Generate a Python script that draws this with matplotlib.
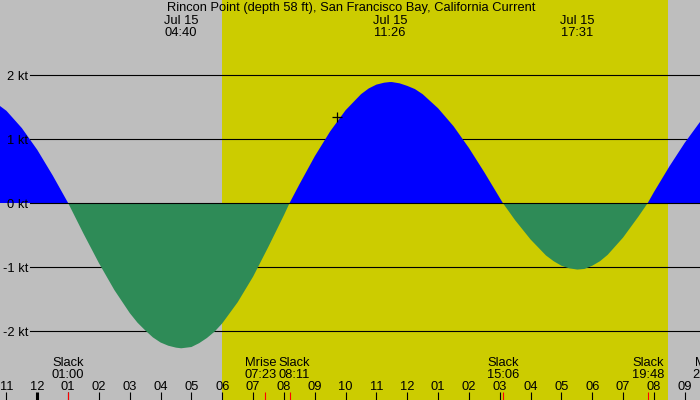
import matplotlib
matplotlib.use("Agg")
import matplotlib.pyplot as plt
import matplotlib.transforms as mtransforms

# ---- data (hours from midnight Jul 15, knots) ----
times = [-1.5, -1.25, -1.0, -0.5, 0.0, 0.5, 1.0, 1.5, 2.0, 2.5, 3.0, 3.25, 3.5, 3.75, 4.0, 4.25,
         4.5, 4.667, 5.0, 5.25, 5.5, 5.75, 6.0, 6.5, 7.0, 7.5, 8.0, 8.183, 8.5, 9.0, 9.5,
         10.0, 10.5, 10.75, 11.0, 11.25, 11.433, 11.5, 11.75, 12.0, 12.25, 12.5, 13.0, 13.5,
         14.0, 14.5, 15.0, 15.1, 15.5, 16.0, 16.5, 16.75, 17.0, 17.25, 17.517, 17.75, 18.0,
         18.25, 18.5, 19.0, 19.5, 19.8, 20.0, 20.5, 21.0, 21.5, 22.0]
speeds = [1.60, 1.53, 1.44, 1.17, 0.83, 0.43, 0.0, -0.48, -0.94, -1.36, -1.72, -1.87, -1.99, -2.10,
          -2.18, -2.23, -2.26, -2.27, -2.25, -2.19, -2.11, -2.01, -1.88, -1.55, -1.15, -0.68,
          -0.19, 0.0, 0.29, 0.73, 1.12, 1.45, 1.70, 1.79, 1.85, 1.88, 1.89, 1.89, 1.87, 1.83,
          1.78, 1.70, 1.48, 1.20, 0.86, 0.48, 0.08, 0.0, -0.27, -0.57, -0.82, -0.91, -0.98,
          -1.02, -1.04, -1.03, -0.98, -0.91, -0.81, -0.54, -0.21, 0.0, 0.17, 0.57, 0.94, 1.27,
          1.54]

title = "Rincon Point (depth 58 ft), San Francisco Bay, California Current"
peak_times = [4.667, 11.433, 17.517]
peak_labels = ["Jul 15\n04:40", "Jul 15\n11:26", "Jul 15\n17:31"]
event_times = [1.0, 7.383, 8.183, 15.1, 19.8, 21.783]
event_names = ["Slack", "Mrise", "Slack", "Slack", "Slack", "Mset"]
event_clock = ["01:00", "07:23", "08:11", "15:06", "19:48", "21:47"]
event_shift_px = [0, -4, 5, 0, 0, 0]
hour_ticks = list(range(-1, 22))
hour_labels = ["11", "12", "01", "02", "03", "04", "05", "06", "07", "08", "09", "10", "11",
               "12", "01", "02", "03", "04", "05", "06", "07", "08", "09"]
kt_levels = [2, 1, 0, -1, -2]
kt_labels = ["2 kt", "1 kt", "0 kt", "-1 kt", "-2 kt"]
sunrise, sunset = 6.0, 20.46
marker_t, marker_v = 9.73, 1.34

W, H = 700, 400
fig = plt.figure(figsize=(7, 4), dpi=100)
fig.patch.set_facecolor("#bebebe")
ax = fig.add_axes([0, 0, 1, 1])
ax.set_facecolor("#bebebe")
ax.set_xlim(-1.2099, 21.495)
ax.set_ylim(-3.078, 3.172)
ax.axis("off")

FONT = "Liberation Sans"
FS = 9.3

ax.axvspan(sunrise, sunset, color="#cccc00", zorder=1, lw=0)

for lv in kt_levels:
    if lv != 0:
        ax.axhline(lv, xmin=30 / W, xmax=1, color="black", lw=0.8, zorder=2)

ax.fill_between(times, speeds, 0, where=[s >= 0 for s in speeds], interpolate=True,
                color="#0000ff", lw=0, zorder=3)
ax.fill_between(times, speeds, 0, where=[s <= 0 for s in speeds], interpolate=True,
                color="#2e8b57", lw=0, zorder=3)
ax.axhline(0, xmin=30 / W, xmax=1, color="black", lw=0.8, zorder=4)

ax.plot([marker_t], [marker_v], marker="+", color="black", ms=7, mew=0.9, zorder=5)

# y labels
for lv, lab in zip(kt_levels, kt_labels):
    y_px = 203 - 64 * lv
    ax.text(28 / W, 1 - (y_px + 4.5) / H, lab, transform=ax.transAxes, ha="right",
            va="baseline", fontsize=FS, family=FONT, zorder=6)

trans = mtransforms.blended_transform_factory(ax.transData, ax.transAxes)

# bottom hour ticks
for h, lab in zip(hour_ticks, hour_labels):
    lw = 2.2 if h == 0 else 0.8
    ax.plot([h, h], [0, 8 / H], transform=trans, color="black", lw=lw, zorder=6,
            solid_capstyle="butt")
    ax.text(h, 1 - 390 / H, lab, transform=trans, ha="center", va="baseline",
            fontsize=FS, family=FONT, zorder=6)

# events
for t, nm, ck, sh in zip(event_times, event_names, event_clock, event_shift_px):
    ax.plot([t, t], [0, 8 / H], transform=trans, color="red", lw=0.8, zorder=7,
            solid_capstyle="butt")
    off = mtransforms.offset_copy(trans, fig=fig, x=sh, y=0, units="dots")
    ax.text(t, 1 - 366 / H, nm, transform=off, ha="center", va="baseline",
            fontsize=FS, family=FONT, zorder=6)
    ax.text(t, 1 - 378 / H, ck, transform=off, ha="center", va="baseline",
            fontsize=FS, family=FONT, zorder=6)

# peak labels
for t, lab in zip(peak_times, peak_labels):
    l1, l2 = lab.split("\n")
    ax.text(t, 1 - 24 / H, l1, transform=trans, ha="center", va="baseline",
            fontsize=FS, family=FONT, zorder=6)
    ax.text(t, 1 - 36 / H, l2, transform=trans, ha="center", va="baseline",
            fontsize=FS, family=FONT, zorder=6)

fig.text(351 / W, 1 - 11 / H, title, ha="center", va="baseline", fontsize=FS, family=FONT)

fig.savefig("out.png", dpi=100, facecolor=fig.get_facecolor())
